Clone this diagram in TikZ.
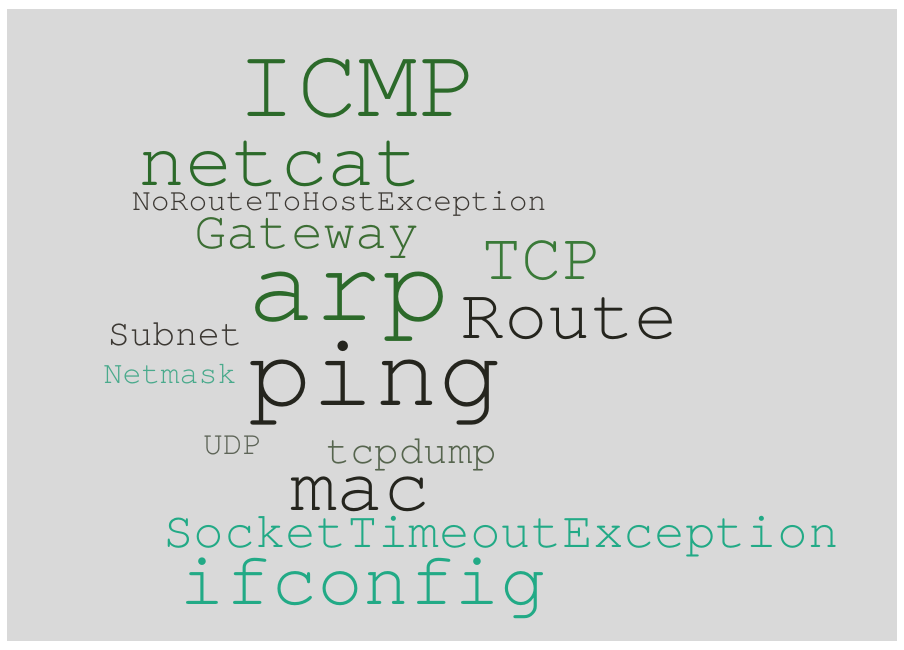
\documentclass[tikz,border=0pt]{standalone}
\usepackage{fontspec}
\newfontfamily\cur[Ligatures={NoCommon,NoRare,NoContextual}]{TeX Gyre Cursor}
\definecolor{bg}{HTML}{D9D9D9}
\definecolor{gA}{HTML}{2C6A2A}
\definecolor{gB}{HTML}{3C6E34}
\definecolor{gC}{HTML}{3A7A38}
\definecolor{dk}{HTML}{25251E}
\definecolor{dg}{HTML}{3C3833}
\definecolor{gy}{HTML}{5E6558}
\definecolor{ol}{HTML}{56654E}
\definecolor{tl}{HTML}{4AAA8C}
\definecolor{tt}{HTML}{22AA86}
\tikzset{
  word/.style={anchor=base west, inner sep=0pt, outer sep=0pt, font=\cur},
}
\newcommand{\fsz}[1]{\fontsize{#1}{#1}\selectfont}
\begin{document}
\begin{tikzpicture}[x=1pt,y=-1pt]
\useasboundingbox (0,0) rectangle (904,649);
\fill[white] (0,0) rectangle (904,649);
\fill[bg] (7,9) rectangle (897,641);
\node[word, text=gA] (icmp) at (236.5,116) {\fsz{101}ICMP};
\node[word, text=gA] (netcat) at (138,185) {\fsz{79}netcat};
\node[word, text=dg] (noroute) at (132,210) {\fsz{31.4}NoRouteToHostException};
\node[word, text=gB] (gateway) at (194.5,248) {\fsz{53.7}Gateway};
\node[word, text=gC] (tcp) at (481,279) {\fsz{67.5}TCP};
\node[word, text=gA] (arp) at (247,320) {\fsz{112.5}arp};
\node[word, text=dk] (route) at (460.5,338) {\fsz{72.7}Route};
\node[word, text=dg] (subnet) at (107.5,345) {\fsz{37.5}Subnet};
\node[word, text=tl] (netmask) at (103.5,383) {\fsz{31.7}Netmask};
\node[word, text=dk] (ping) at (248.5,405) {\fsz{105.7}ping};
\node[word, text=gy] (udp) at (203,454) {\fsz{33}UDP};
\node[word, text=ol] (tcpdump) at (326,463) {\fsz{40.7}tcpdump};
\node[word, text=dk] (mac) at (290,510) {\fsz{78}mac};
\node[word, text=tt] (socket) at (163,547) {\fsz{51.2}SocketTimeoutException};
\node[word, text=tt] (ifconfig) at (179.5,604) {\fsz{76.5}ifconfig};
\end{tikzpicture}
\end{document}
